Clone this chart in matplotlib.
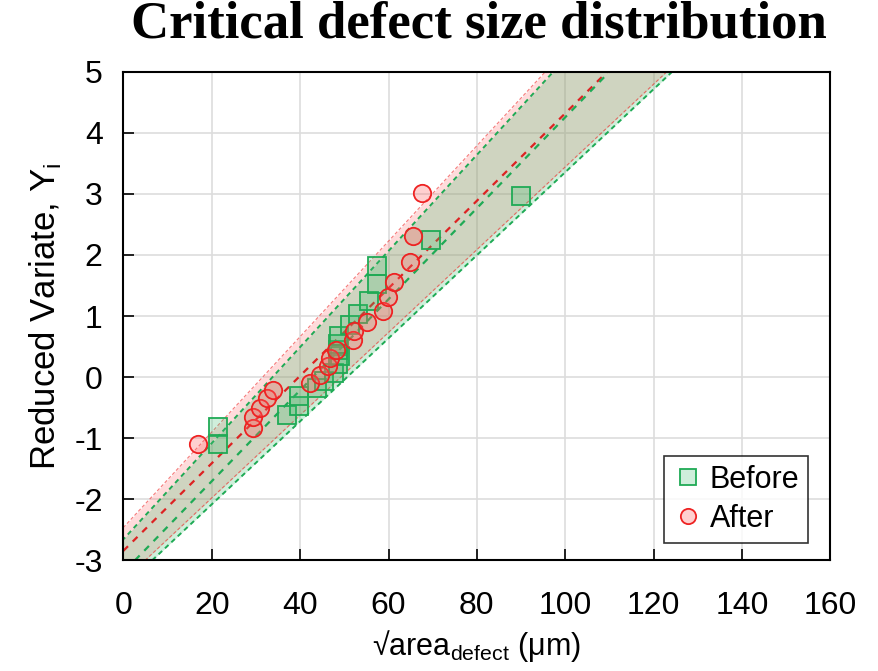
import matplotlib
matplotlib.use("Agg")
from matplotlib import pyplot as plt
import numpy as np

plt.rcParams['axes.unicode_minus'] = False

# before (green squares)
before_x = [21.5, 21.3, 37.0, 39.7, 39.8, 43.9, 45.5, 47.6, 48.5, 49.0,
            48.6, 48.5, 48.7, 51.2, 53.0, 55.5, 57.3, 57.5, 69.6, 90.0]
before_y = [-0.82, -1.09, -0.62, -0.48, -0.31, -0.18, -0.06, 0.07, 0.21, 0.35,
            0.45, 0.55, 0.68, 0.85, 1.03, 1.25, 1.52, 1.82, 2.25, 2.97]

# after (red circles)
after_x = [16.9, 29.4, 29.4, 30.8, 32.6, 33.8, 42.2, 44.6, 46.4, 46.8,
           48.1, 51.9, 52.1, 55.1, 58.8, 59.8, 61.3, 64.9, 65.6, 67.6]
after_y = [-1.10, -0.84, -0.65, -0.50, -0.35, -0.21, -0.09, 0.04, 0.18, 0.31,
           0.44, 0.60, 0.76, 0.91, 1.09, 1.31, 1.56, 1.89, 2.31, 3.02]

# fit lines and confidence bands, given as x at y = -3 and y = 5
band_y = [-3, 5]
before_fit_x = [2.6, 110.0]
before_lo_x = [-4.4, 97.3]
before_hi_x = [6.5, 124.2]
after_fit_x = [-2.2, 109.5]
after_lo_x = [-6.9, 95.5]
after_hi_x = [4.9, 123.0]

green = '#1faa55'
red = '#ee2222'
sans = ['Liberation Sans', 'DejaVu Sans']

fig = plt.figure(figsize=(8.79, 6.71), dpi=100)
ax = fig.add_axes([0.1405, 0.165, 0.804, 0.728])

ax.fill_betweenx(band_y, after_lo_x, after_hi_x, color='#ff8080', alpha=0.28, lw=0, zorder=1)
ax.fill_betweenx(band_y, before_lo_x, before_hi_x, color='#40c070', alpha=0.25, lw=0, zorder=1)
for xs in (after_lo_x, after_hi_x):
    ax.plot(xs, band_y, color=red, lw=0.8, ls=(0, (3, 2)), alpha=0.6, zorder=2)
for xs in (before_lo_x, before_hi_x):
    ax.plot(xs, band_y, color=green, lw=1.4, ls=(0, (2.5, 2)), zorder=2)
ax.plot(after_fit_x, band_y, color='#dd2222', lw=1.6, ls=(0, (3, 3)), zorder=2)
ax.plot(before_fit_x, band_y, color=green, lw=1.6, ls=(0, (3, 3)), zorder=2)

ax.plot(before_x, before_y, ls='none', marker='s', ms=12.5, mfc=(0.25, 0.75, 0.45, 0.25),
        mec=green, mew=1.3, label='Before', zorder=3)
ax.plot(after_x, after_y, ls='none', marker='o', ms=12.5, mfc=(1.0, 0.4, 0.4, 0.3),
        mec=red, mew=1.3, label='After', zorder=3)

ax.set_xlim(0, 160)
ax.set_ylim(-3, 5)
ax.set_xticks(np.arange(0, 161, 20))
ax.set_yticks(np.arange(-3, 6, 1))
ax.grid(True, color='#dddddd', lw=1.2, zorder=0)
ax.set_axisbelow(True)
for s in ax.spines.values():
    s.set_linewidth(1.5)
ax.tick_params(direction='in', length=8, width=1.2, labelsize=23)
ax.tick_params(axis='x', pad=22)
ax.tick_params(axis='y', pad=15)
for lab in ax.get_xticklabels() + ax.get_yticklabels():
    lab.set_family(sans)

ax.set_xlabel('√area$_\\mathregular{defect}$ (μm)', fontsize=22, family=sans, labelpad=5)
ax.set_ylabel('Reduced Variate, Y$_\\mathregular{i}$', fontsize=25, family=sans, labelpad=8)
fig.suptitle('Critical defect size distribution', fontsize=38, fontweight='bold',
             family='Liberation Serif', x=0.545, y=1.0)

leg = ax.legend(loc='lower right', frameon=True, fancybox=False, borderaxespad=0,
                handletextpad=0.2, handlelength=1.0, borderpad=0.3, labelspacing=0.3,
                bbox_to_anchor=(0.969, 0.035), prop={'family': sans, 'size': 22})
leg.get_frame().set_edgecolor('black')
leg.get_frame().set_linewidth(1.2)
for h in leg.legend_handles:
    h.set_markersize(11)

fig.savefig('out.png', dpi=100)
